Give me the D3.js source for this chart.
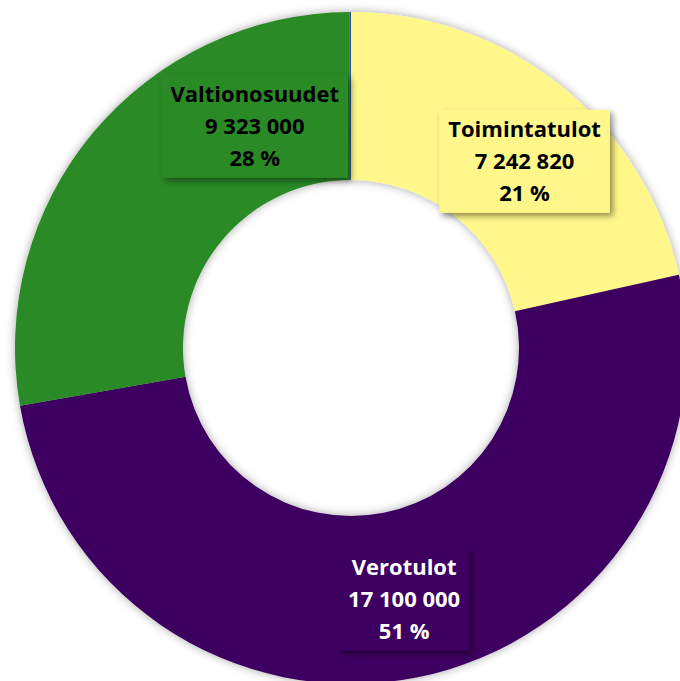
<!DOCTYPE html>
<html>
<head>
<meta charset="utf-8">
<script src="https://cdn.jsdelivr.net/npm/d3@7"></script>
<style>
  body { margin: 0; background: #fff; }
  svg { display: block; }
  text { font-family: "Open Sans", Lato, sans-serif; font-weight: bold; }
</style>
</head>
<body>
<div id="chart"></div>
<script>
// data (last one is the tiny unlabeled slice seen as a blue seam at the top)
var categories = ["Toimintatulot", "Verotulot", "Valtionosuudet", "Muut"];
var values = [7242820, 17100000, 9323000, 25000];
var showLabel = [true, true, true, false];
var colors = ["#fff78a", "#3d0560", "#2c8a25", "#2f5597"];
var textColors = ["#000", "#fff", "#000", "#000"];

var width = 680, height = 681;
var cx = 351, cy = 348;
var outer = 336, inner = 168;

// hand placed labels, like the original (moved off the centroid)
var labelNudge = {
    "Toimintatulot": [16, 10],
    "Verotulot": [4, 4],
    "Valtionosuudet": [97, -60]
};

var total = d3.sum(values);
var fmt = d3.formatLocale({ decimal: ",", thousands: " ", grouping: [3], currency: ["", ""] }).format(",");

var svg = d3.select("#chart")
    .append("svg")
    .attr("width", width)
    .attr("height", height);

var defs = svg.append("defs");
defs.append("filter")
    .attr("id", "ringShadow")
    .attr("x", "-20%").attr("y", "-20%").attr("width", "140%").attr("height", "140%")
    .append("feDropShadow")
    .attr("dx", 0).attr("dy", 0)
    .attr("stdDeviation", 5)
    .attr("flood-color", "#000")
    .attr("flood-opacity", 0.35);
defs.append("filter")
    .attr("id", "boxShadow")
    .attr("x", "-20%").attr("y", "-20%").attr("width", "140%").attr("height", "140%")
    .append("feDropShadow")
    .attr("dx", 3).attr("dy", 3)
    .attr("stdDeviation", 3)
    .attr("flood-color", "#000")
    .attr("flood-opacity", 0.45);

var g = svg.append("g").attr("transform", "translate(" + cx + "," + cy + ")");

var pie = d3.pie().sort(null).value(function (d) { return d; });
var arcs = pie(values);

var arc = d3.arc().innerRadius(inner).outerRadius(outer);
var labelArc = d3.arc().innerRadius((inner + outer) / 2).outerRadius((inner + outer) / 2);

g.append("g")
    .attr("filter", "url(#ringShadow)")
    .selectAll("path")
    .data(arcs)
    .enter()
    .append("path")
    .attr("d", arc)
    .style("fill", function (d, i) { return colors[i]; });

var labels = g.selectAll("g.label")
    .data(arcs.filter(function (d, i) { return showLabel[i]; }))
    .enter()
    .append("g")
    .attr("class", "label")
    .attr("transform", function (d) {
        var c = labelArc.centroid(d);
        var n = labelNudge[categories[d.index]];
        return "translate(" + (c[0] + n[0]) + "," + (c[1] + n[1]) + ")";
    });

labels.each(function (d) {
    var i = d.index;
    var lg = d3.select(this);
    var lines = [categories[i], fmt(values[i]), Math.round(values[i] / total * 100) + " %"];
    var rect = lg.append("rect").attr("filter", "url(#boxShadow)").style("fill", colors[i]);
    var maxW = 0;
    lines.forEach(function (t, k) {
        var tx = lg.append("text")
            .attr("x", 0)
            .attr("y", 8 + (k - 1) * 32)
            .attr("text-anchor", "middle")
            .style("font-size", "22px")
            .style("fill", textColors[i])
            .text(t);
        maxW = Math.max(maxW, tx.node().getComputedTextLength());
    });
    var w = maxW + 18, h = 103;
    rect.attr("x", -w / 2).attr("y", -h / 2).attr("width", w).attr("height", h);
});
</script>
</body>
</html>
